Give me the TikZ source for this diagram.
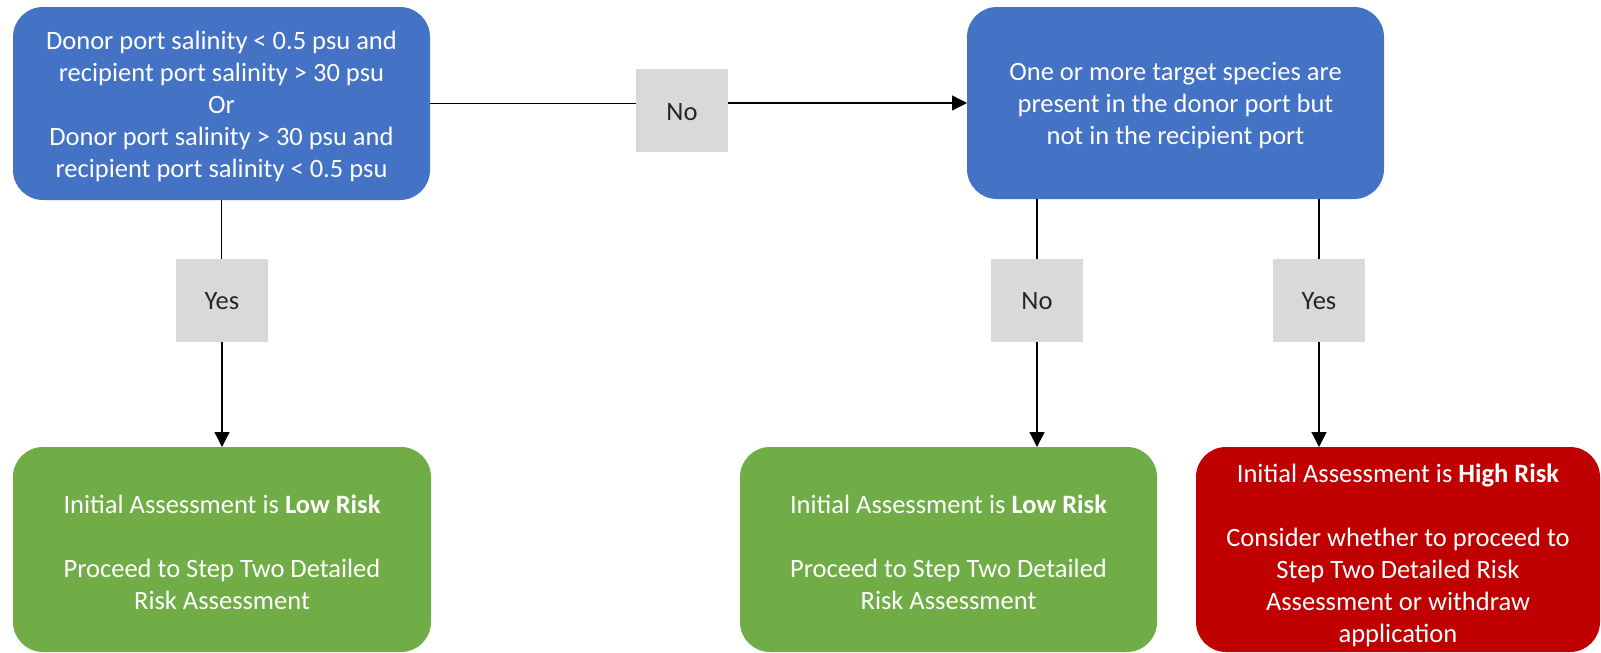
\documentclass[tikz,border=0pt]{standalone}
\usepackage{fontspec}
\setmainfont{Carlito}
\usetikzlibrary{arrows.meta}
\definecolor{boxblue}{HTML}{4472C4}
\definecolor{boxgreen}{HTML}{70AD47}
\definecolor{boxred}{HTML}{C00000}
\definecolor{labgray}{HTML}{D9D9D9}
\begin{document}
\begin{tikzpicture}[x=1pt,y=-1pt,
  box/.style={rounded corners=30pt, inner sep=0pt, outer sep=0pt},
  txt/.style={text=white, align=center, inner sep=0pt, font=\fontsize{26.5}{32}\selectfont},
  lab/.style={fill=labgray, inner sep=0pt, outer sep=0pt, minimum width=92pt, minimum height=83pt, text height=19pt, text depth=0pt, text=black!85, font=\fontsize{26.5}{32}\selectfont},
  conn/.style={line width=1.3pt, draw=black},
  arr/.style={conn, -{Triangle[length=15pt,width=15pt]}}]
\useasboundingbox (0,0) rectangle (1601,653);
\node[box, fill=boxblue, minimum width=417pt, minimum height=193pt] (A) at (221.5,103.5) {};
\node[txt] (At) at ([yshift=-3pt]A.center)
  {Donor port salinity {<} 0.5 psu and\\recipient port salinity {>} 30 psu\\Or\\Donor port salinity {>} 30 psu and\\recipient port salinity {<} 0.5 psu};
\node[box, fill=boxblue, minimum width=417pt, minimum height=192pt] (B) at (1175.5,103) {};
\node[txt] (Bt) at ([yshift=-3pt]B.center)
  {One or more target species are\\present in the donor port but\\not in the recipient port};
\node[box, fill=boxgreen, minimum width=418pt, minimum height=205pt] (G1) at (222,549.5) {};
\node[txt] (G1t) at ([yshift=-3pt]G1.center)
  {Initial Assessment is \textbf{Low Risk}\\[32pt]Proceed to Step Two Detailed\\Risk Assessment};
\node[box, fill=boxgreen, minimum width=417pt, minimum height=205pt] (G2) at (948.5,549.5) {};
\node[txt] (G2t) at ([yshift=-3pt]G2.center)
  {Initial Assessment is \textbf{Low Risk}\\[32pt]Proceed to Step Two Detailed\\Risk Assessment};
\node[box, fill=boxred, minimum width=404pt, minimum height=205pt] (R) at (1398,549.5) {};
\node[txt] (Rt) at ([yshift=-6pt]R.center)
  {Initial Assessment is \textbf{High Risk}\\[32pt]Consider whether to proceed to\\Step Two Detailed Risk\\Assessment or withdraw\\application};
\node[lab] (noA) at (682,110.5) {No};
\node[lab] (yes1) at (222,300) {Yes};
\node[lab] (no2) at (1037,300) {No};
\node[lab] (yes2) at (1319,300) {Yes};
\draw[conn] (A.east) -- (A.east -| noA.west);
\draw[arr] (noA.east |- B.west) -- (B.west);
\draw[conn] (A.south) -- (A.south |- yes1.north);
\draw[arr] (yes1.south) -- (yes1.south |- G1.north);
\draw[conn] (no2.north |- B.south) -- (no2.north);
\draw[arr] (no2.south) -- (no2.south |- G2.north);
\draw[conn] (yes2.north |- B.south) -- (yes2.north);
\draw[arr] (yes2.south) -- (yes2.south |- R.north);
\end{tikzpicture}
\end{document}
